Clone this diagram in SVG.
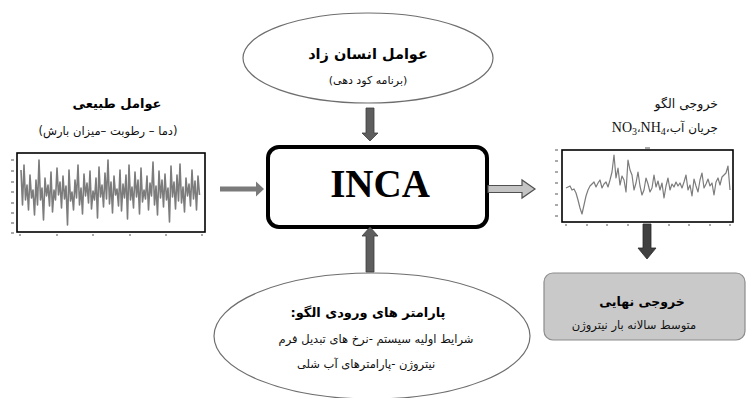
<svg xmlns="http://www.w3.org/2000/svg" width="747" height="398" viewBox="0 0 747 398">
  <style>
    .fa { font-family: "DejaVu Sans", sans-serif; direction: rtl; fill: #111; }
    .fa-b { font-family: "DejaVu Sans", sans-serif; direction: rtl; font-weight: bold; fill: #000; }
    .oval { fill: #fff; stroke: #6e6e6e; stroke-width: 1.2; }
    .frame { fill: #fff; stroke: #000; stroke-width: 1.6; }
    .tick { stroke: #555; stroke-width: 1; }
    .sig { fill: none; stroke: #7c7c7c; stroke-linejoin: round; }
  </style>

  <!-- human factors input -->
  <g id="node-human">
    <ellipse class="oval" cx="368" cy="58" rx="125" ry="45"/>
    <text class="fa-b" x="368" y="59" font-size="14.5" text-anchor="middle">عوامل انسان زاد</text>
    <text class="fa" x="368" y="84" font-size="11" text-anchor="middle">(برنامه کود دهی)</text>
  </g>

  <!-- natural factors input with climate series -->
  <g id="node-natural">
    <text class="fa-b" x="117" y="108" font-size="13" text-anchor="middle">عوامل طبیعی</text>
    <text class="fa" x="108" y="135" font-size="11.5" text-anchor="middle">(دما – رطوبت –میزان بارش)</text>
    <rect class="frame" x="17" y="153" width="188" height="79"/>
    <g class="tick">
      <path d="M11 160h3M11 171h3M11 182h3M11 192h3M11 203h3M11 213h3M11 223h3M11 233h3"/>
      <path d="M20 234v2M57 234v2M93 234v2M130 234v2M166 234v2M202 234v2"/>
    </g>
    <polyline class="sig" stroke-width="1.6" points="21,170 22.5,205 24,165 25.5,200 27,185 28.5,210 30,175 31.5,198 33,190 34.5,215 36,180 37.5,205 39,160 40.5,200 42,188 43.5,220 45,178 46.5,196 48,185 49.5,206 51,172 52.5,212 54,190 55.5,200 57,168 58.5,195 60,182 61.5,208 63,176 64.5,199 66,186 67.5,225 69,170 70.5,201 72,192 73.5,210 75,180 76.5,198 78,165 79.5,205 81,188 82.5,214 84,174 85.5,196 87,183 88.5,203 90,171 91.5,209 93,191 94.5,200 96,178 97.5,218 99,167 100.5,197 102,185 103.5,207 105,173 106.5,199 108,160 109.5,204 111,182 112.5,213 114,176 115.5,195 117,189 118.5,206 120,170 121.5,211 123,184 124.5,198 126,175 127.5,219 129,165 130.5,200 132,187 133.5,208 135,172 136.5,197 138,180 139.5,214 141,168 142.5,202 144,190 145.5,199 147,176 148.5,210 150,183 151.5,196 153,162 154.5,205 156,186 157.5,215 159,171 160.5,198 162,180 163.5,207 165,174 166.5,200 168,188 169.5,222 171,166 172.5,197 174,182 175.5,209 177,175 178.5,201 180,164 181.5,203 183,187 184.5,212 186,178 187.5,196 189,184 190.5,206 192,170 193.5,199 195,181 196.5,210 198,176 199.5,195"/>
  </g>

  <!-- central model -->
  <g id="node-inca">
    <rect x="268" y="147" width="219" height="80" rx="11" fill="#fff" stroke="#000" stroke-width="4"/>
    <text x="380" y="197" font-family="Liberation Serif, serif" font-weight="bold" font-size="39" text-anchor="middle" fill="#000">INCA</text>
  </g>

  <!-- model output series -->
  <g id="node-model-output">
    <text x="718" y="108" font-size="12.5" text-anchor="end" fill="#111" font-family="DejaVu Sans, sans-serif">خروجی الگو</text>
    <text x="718" y="132" font-size="14" text-anchor="end" fill="#111" font-family="Liberation Serif, serif"><tspan>NO</tspan><tspan font-size="10" dy="3">3</tspan><tspan dy="-3" font-family="DejaVu Sans, sans-serif" font-size="11">،</tspan><tspan>NH</tspan><tspan font-size="10" dy="3">4</tspan><tspan dy="-3" font-family="DejaVu Sans, sans-serif" font-size="12">،جریان آب</tspan></text>
    <rect class="frame" x="562" y="150" width="171" height="72"/>
    <g class="tick">
      <path d="M555 150h3M555 161h3M555 172h3M555 183h3M555 194h3M555 205h3M555 216h3"/>
      <path d="M566 224v2M587 224v2M607 224v2M628 224v2M669 224v2M689 224v2M710 224v2M730 224v2M645 148h5"/>
    </g>
    <polyline class="sig" stroke-width="1.2" points="566,188 568,187 570,186 572,190 574,189 576,193 578,200 580,208 582,214 584,205 586,196 588,190 590,186 592,184 594,182 596,187 598,183 600,180 602,188 604,184 606,182 608,187 610,180 612,172 614,155 616,178 618,168 620,185 622,176 624,180 626,192 628,160 630,170 632,175 634,190 636,183 638,172 640,186 642,195 644,190 646,178 648,184 650,192 652,188 654,175 656,187 658,181 660,190 662,183 664,198 666,186 668,178 670,190 672,184 674,187 676,182 678,186 680,183 682,188 684,182 686,175 688,190 690,185 692,196 694,179 696,186 698,192 700,180 702,173 704,188 706,184 708,179 710,186 712,183 714,195 716,182 718,178 720,185 722,177 724,175 726,173 728,166 730,190"/>
  </g>

  <!-- input parameters -->
  <g id="node-params">
    <ellipse class="oval" cx="372" cy="336" rx="158" ry="63"/>
    <text class="fa-b" x="368" y="317" font-size="13" text-anchor="middle">پارامتر های ورودی  الگو:</text>
    <text class="fa" x="376" y="343" font-size="11.5" text-anchor="middle">شرایط اولیه سیستم -نرخ های تبدیل فرم</text>
    <text class="fa" x="366" y="368" font-size="11.5" text-anchor="middle">نیتروژن -پارامترهای آب شلی</text>
  </g>

  <!-- final output -->
  <g id="node-final">
    <rect x="544" y="273" width="201" height="67" rx="9" fill="#c9c9c9" stroke="#8c8c8c" stroke-width="1.2"/>
    <text class="fa-b" x="642" y="306" font-size="12.5" text-anchor="middle">خروجی نهایی</text>
    <text class="fa" x="634" y="329" font-size="11.5" text-anchor="middle">متوسط سالانه بار نیتروژن</text>
  </g>

  <!-- connectors -->
  <g id="connectors">
    <!-- human factors -> model -->
    <path d="M366 108h8v25h4l-8 8l-8-8h4z" fill="#5e5e5e" stroke="#3e3e3e" stroke-width="0.8"/>
    <!-- natural factors -> model -->
    <path d="M220 186.5h36v-5l8 7.5l-8 7.5v-5h-36z" fill="#7a7a7a"/>
    <!-- parameters -> model -->
    <path d="M366 272v-36h-4l8-9l8 9h-4v36z" fill="#5e5e5e" stroke="#3e3e3e" stroke-width="0.8"/>
    <!-- model -> output series -->
    <path d="M488 185.5h34v-5.5l13 9l-13 9v-5.5h-34z" fill="#c4c4c4" stroke="#505050" stroke-width="1.2"/>
    <!-- output series -> final output -->
    <path d="M643 224h8v24h5l-9 11l-9-11h5z" fill="#404040" stroke="#2a2a2a" stroke-width="0.8"/>
  </g>
</svg>
